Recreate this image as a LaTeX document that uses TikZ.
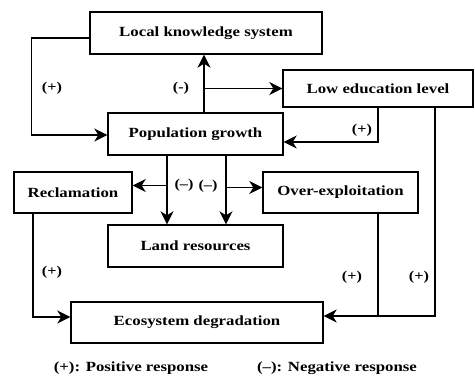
\documentclass[tikz,border=0pt]{standalone}
\usepackage{fontspec}
\setmainfont{Liberation Serif}[FakeStretch=1.2]
\usetikzlibrary{arrows.meta}
\begin{document}
\begin{tikzpicture}[x=1pt,y=-1pt,
  box/.style={draw,line width=1.4pt,inner sep=0pt,font=\bfseries\fontsize{14}{16}\selectfont},
  arr/.style={line width=1.4pt,-{Stealth[length=13pt,width=13pt,inset=4pt]}},
  ln/.style={line width=1.4pt},
  lbl/.style={font=\bfseries\fontsize{13.5}{15}\selectfont,inner sep=1pt},
  leg/.style={font=\bfseries\fontsize{14}{16}\selectfont,inner sep=0pt}]
\useasboundingbox (0,0) rectangle (475,378);
\node[box,minimum width=232pt,minimum height=42pt] (lks) at (206,33) {Local knowledge system};
\node[box,minimum width=190pt,minimum height=37pt] (edu) at (378,88.5) {Low education level};
\node[box,minimum width=175pt,minimum height=42pt] (pop) at (195.5,134) {Population growth};
\node[box,minimum width=118pt,minimum height=41pt] (rec) at (73,192.5) {Reclamation};
\node[box,minimum width=155pt,minimum height=41pt] (over) at (340.5,192.5) {Over-exploitation};
\node[box,minimum width=175pt,minimum height=42pt] (land) at (195.5,246) {Land resources};
\node[box,minimum width=252pt,minimum height=41pt] (eco) at (197,322.5) {Ecosystem degradation};
% LKS -> Pop
\draw[arr] ([yshift=-5pt]lks.west) -- ++(-58,0) |- ([yshift=-1pt]pop.west);
% Pop -> LKS and Low education
\draw[arr] ([xshift=8.5pt]pop.north) -- ([xshift=8.5pt]pop.north |- lks.south);
\coordinate (j1) at (204,88.5);
\draw[arr] (j1) -- (edu.west);
% Low education -> Pop
\draw[arr] (edu.south) |- ([yshift=-8pt]pop.east);
% Low education -> Eco, Over -> Eco
\draw[arr] ([xshift=57pt]edu.south) |- ([yshift=6.5pt]eco.east);
\coordinate (j3) at (378,316);
\draw[ln] ([xshift=37.5pt]over.south) -- (j3);
% Pop -> Land, Reclamation, Over-exploitation
\draw[arr] ([xshift=-28.5pt]pop.south) -- ([xshift=-28.5pt]land.north);
\draw[arr] ([xshift=30.5pt]pop.south) -- ([xshift=30.5pt]land.north);
\coordinate (j4) at (167,185.5);
\coordinate (j5) at (226,187.5);
\draw[arr] (j4) -- ([yshift=7pt]rec.east);
\draw[arr] (j5) -- ([yshift=5pt]over.west);
% Reclamation -> Eco
\draw[arr] ([xshift=-40pt]rec.south) |- ([yshift=5.5pt]eco.west);
% labels
\node[lbl] (l1) at (52,88) {(+)};
\node[lbl] (l2) at (181,88) {(-)};
\node[lbl] (l3) at (362,130) {(+)};
\node[lbl] (l4) at (184,185) {(--)};
\node[lbl] (l5) at (208,186) {(--)};
\node[lbl] (l6) at (52,272) {(+)};
\node[lbl] (l7) at (352,277) {(+)};
\node[lbl] (l8) at (419,277) {(+)};
\node[leg] (g1) at (131,368) {(+): Positive response};
\node[leg] (g2) at (337,368) {(--): Negative response};
\end{tikzpicture}
\end{document}
